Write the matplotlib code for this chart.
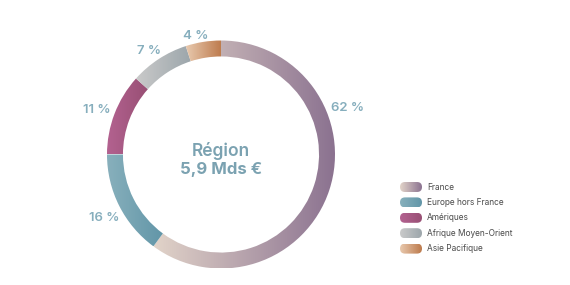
import numpy as np
import matplotlib
matplotlib.use("Agg")
import matplotlib.pyplot as plt
from matplotlib.colors import LinearSegmentedColormap
from matplotlib.patches import FancyBboxPatch

plt.rcParams['font.family'] = ['Inter', 'DejaVu Sans']

# donnees
regions = ["France", "Europe hors France", "Amériques", "Afrique Moyen-Orient", "Asie Pacifique"]
labels = ["62 %", "16 %", "11 %", "7 %", "4 %"]
arcs = [60.1, 14.9, 11.6, 8.4, 5.0]
label_angles = [67, 238, 292, 329.7, 353.8]  # position des etiquettes, degres depuis midi
grad_left = ["#e2d4c9", "#88b0bc", "#b36290", "#cacaca", "#e8c9ae"]
grad_right = ["#8b7290", "#6296a8", "#984f74", "#9ca6ab", "#bd7a4c"]
titre = "Région"
total = "5,9 Mds €"

W, H = 570, 285
fig = plt.figure(figsize=(W / 100, H / 100), dpi=100)

# anneau
R = 114
cx, cy = 221, H - 154.5
lim = 1.3
size = 2 * lim * R
ax = fig.add_axes([(cx - size / 2) / W, (cy - size / 2) / H, size / W, size / H])
wedges, _ = ax.pie(arcs, startangle=90, counterclock=False, radius=1,
                   wedgeprops=dict(width=0.14, linewidth=0))
grad = np.linspace(0, 1, 256).reshape(1, -1)
for w, c0, c1 in zip(wedges, grad_left, grad_right):
    ext = w.get_path().get_extents()
    cmap = LinearSegmentedColormap.from_list("g", [c0, c1])
    im = ax.imshow(grad, cmap=cmap, aspect="auto", interpolation="bilinear",
                   extent=(ext.x0, ext.x1, ext.y0, ext.y1), zorder=1)
    im.set_clip_path(w)
    w.set_facecolor("none")
ax.set_xlim(-lim, lim)
ax.set_ylim(-lim, lim)
ax.set_aspect("equal")
ax.axis("off")

# etiquettes en %
lab_col = "#86aebd"
for t, a in zip(labels, label_angles):
    ang = np.deg2rad(90 - a)
    r = 1.05
    x, y = r * np.cos(ang), r * np.sin(ang)
    ax.text(x, y, t, ha="left" if x > 0 else "right", va="center",
            fontsize=9.5, color=lab_col, fontweight="semibold")

ax.text(0, 0.035, titre, ha="center", va="center", fontsize=12.5,
        color="#7ba2b1", fontweight="semibold")
ax.text(0, -0.13, total, ha="center", va="center", fontsize=12,
        color="#7ba2b1", fontweight="bold")

# legende
lw, lh = 130, 76
lax = fig.add_axes([398 / W, (H - 256) / H, lw / W, lh / H])
lax.axis("off")
pw, ph = 22, 10
for i, (nom, c0, c1) in enumerate(zip(regions, grad_left, grad_right)):
    yc = 7 + i * 15.4
    pill = FancyBboxPatch((2 + ph / 2, yc), pw - ph, 0,
                          boxstyle="round,pad=%.1f" % (ph / 2), linewidth=0, facecolor="none")
    lax.add_patch(pill)
    cmap = LinearSegmentedColormap.from_list("g", [c0, c1])
    im = lax.imshow(grad, cmap=cmap, aspect="auto", interpolation="bilinear",
                    extent=(2, 2 + pw, yc + ph / 2, yc - ph / 2))
    im.set_clip_path(pill)
    lax.text(29, yc, nom, ha="left", va="center", fontsize=6, color="#4a4a4a")
lax.set_xlim(0, lw)
lax.set_ylim(lh, 0)

fig.savefig("out.png", dpi=100, facecolor="white")
